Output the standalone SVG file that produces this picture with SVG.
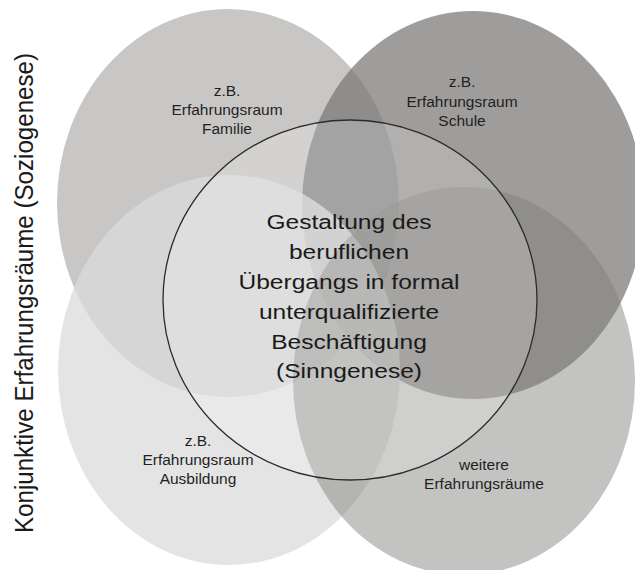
<svg xmlns="http://www.w3.org/2000/svg" width="635" height="570" viewBox="0 0 635 570">
  <style>
    .lbl { font-family: "Liberation Sans", Arial, sans-serif; font-size: 15.5px; fill: #1f1f1f; text-anchor: middle; }
    .core { font-family: "Liberation Sans", Arial, sans-serif; font-size: 21px; fill: #1a1a1a; text-anchor: middle; }
    .side { font-family: "Liberation Sans", Arial, sans-serif; font-size: 25px; fill: #1a1a1a; text-anchor: middle; }
  </style>
  <rect width="635" height="570" fill="#ffffff"/>

  <!-- Erfahrungsraum Familie -->
  <g id="familie">
    <ellipse cx="228" cy="203" rx="171" ry="194" fill="rgb(163,161,160)" fill-opacity="0.6"/>
    <text class="lbl" x="227" y="96">z.B.</text>
    <text class="lbl" x="227" y="115">Erfahrungsraum</text>
    <text class="lbl" x="227" y="134">Familie</text>
  </g>

  <!-- Erfahrungsraum Schule -->
  <g id="schule">
    <ellipse cx="473" cy="205" rx="171" ry="194" fill="rgb(118,117,116)" fill-opacity="0.71"/>
    <text class="lbl" x="462" y="87">z.B.</text>
    <text class="lbl" x="462" y="106.5">Erfahrungsraum</text>
    <text class="lbl" x="462" y="126">Schule</text>
  </g>

  <!-- Erfahrungsraum Ausbildung -->
  <g id="ausbildung">
    <ellipse cx="229" cy="370" rx="171" ry="195" fill="rgb(219,219,219)" fill-opacity="0.745"/>
    <text class="lbl" x="198" y="446">z.B.</text>
    <text class="lbl" x="198" y="465">Erfahrungsraum</text>
    <text class="lbl" x="198" y="484">Ausbildung</text>
  </g>

  <!-- weitere Erfahrungsräume -->
  <g id="weitere">
    <ellipse cx="464" cy="381" rx="171" ry="194" fill="rgb(126,125,124)" fill-opacity="0.464"/>
    <text class="lbl" x="484" y="469.5">weitere</text>
    <text class="lbl" x="484" y="489">Erfahrungsräume</text>
  </g>

  <!-- Sinngenese: central circle -->
  <g id="sinngenese">
    <ellipse cx="350" cy="300" rx="187" ry="180" fill="#ffffff" fill-opacity="0.2" stroke="#2b2b2b" stroke-width="1.3"/>
    <g transform="translate(349,0) scale(1.17,1)">
      <text class="core" x="0" y="229.5">Gestaltung des</text>
      <text class="core" x="0" y="259.3">beruflichen</text>
      <text class="core" x="0" y="289.1">Übergangs in formal</text>
      <text class="core" x="0" y="318.9">unterqualifizierte</text>
      <text class="core" x="0" y="348.7">Beschäftigung</text>
      <text class="core" x="0" y="378.5">(Sinngenese)</text>
    </g>
  </g>

  <!-- Soziogenese: side caption -->
  <g id="soziogenese">
    <text class="side" transform="translate(33,293) rotate(-90)" x="0" y="0" textLength="480" lengthAdjust="spacingAndGlyphs">Konjunktive Erfahrungsräume (Soziogenese)</text>
  </g>
</svg>
